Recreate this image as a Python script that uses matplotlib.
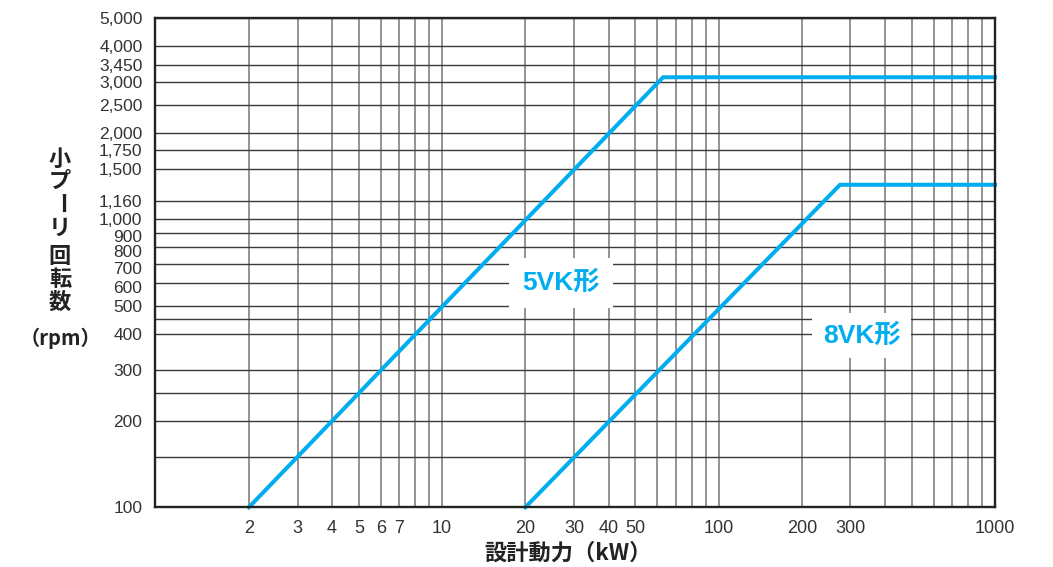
import matplotlib
matplotlib.use("Agg")
import matplotlib.pyplot as plt
from matplotlib.ticker import FixedLocator, NullFormatter
from matplotlib.transforms import ScaledTranslation

# ---- data ----
kw_5vk = [2, 63, 1000]
rpm_5vk = [100, 3120, 3120]
kw_8vk = [20, 275, 1000]
rpm_8vk = [100, 1320, 1320]

x_ticks = [2, 3, 4, 5, 6, 7, 10, 20, 30, 40, 50, 100, 200, 300, 1000]
x_tick_labels = ["2", "3", "4", "5", "6", "7", "10", "20", "30", "40", "50", "100", "200", "300", "1000"]
x_grid_extra = [8, 9, 60, 70, 80, 90, 400, 500, 600, 700, 800, 900]

y_ticks = [100, 200, 300, 400, 500, 600, 700, 800, 900, 1000, 1160, 1500, 1750,
           2000, 2500, 3000, 3450, 4000, 5000]
y_tick_labels = ["100", "200", "300", "400", "500", "600", "700", "800", "900", "1,000",
                 "1,160", "1,500", "1,750", "2,000", "2,500", "3,000", "3,450", "4,000", "5,000"]
y_grid_extra = [150, 250, 450]

label_5vk = "5VK形"
label_8vk = "8VK形"
ylabel_chars = ["小", "プ", "ー", "リ", "回", "転", "数"]
ylabel_unit = "（rpm）"
xlabel = "設計動力（kW）"

BLUE = "#00AEEF"
W, H = 1053, 567

fig = plt.figure(figsize=(W / 100, H / 100), dpi=100)
ax = fig.add_axes([155 / W, 1 - 507.3 / H, (995 - 155) / W, (507.3 - 18.3) / H])
ax.set_xscale("log")
ax.set_yscale("log")
ax.set_xlim(0.915, 1000)
ax.set_ylim(100, 5000)

ax.xaxis.set_major_locator(FixedLocator(x_ticks))
ax.xaxis.set_minor_locator(FixedLocator(x_grid_extra))
ax.set_xticklabels(x_tick_labels)
ax.xaxis.set_minor_formatter(NullFormatter())
ax.yaxis.set_major_locator(FixedLocator(y_ticks))
ax.yaxis.set_minor_locator(FixedLocator(y_grid_extra))
ax.set_yticklabels(y_tick_labels)
ax.yaxis.set_minor_formatter(NullFormatter())

ax.tick_params(which="both", length=0)
ax.tick_params(axis="y", pad=9, labelsize=12.5, labelcolor="#333333")
ax.tick_params(axis="x", pad=9, labelsize=13, labelcolor="#333333")
for lab in ax.get_xticklabels() + ax.get_yticklabels():
    lab.set_family("Liberation Sans")
# small downward nudges (in pixels) so the crowded labels separate like the reference
label_nudge = {"900": 3.5, "800": 4, "700": 4, "600": 4}
for lab in ax.get_yticklabels():
    d = label_nudge.get(lab.get_text())
    if d:
        lab.set_transform(lab.get_transform() + ScaledTranslation(0, -d / 100, fig.dpi_scale_trans))

ax.grid(True, axis="x", which="both", color="#808080", lw=1.2)
ax.grid(True, axis="y", which="both", color="#3a3a3a", lw=1.0)
ax.set_axisbelow(True)
for s in ax.spines.values():
    s.set_linewidth(1.7)
    s.set_color("#222222")
    s.set_zorder(5)

ax.plot(kw_5vk, rpm_5vk, color=BLUE, lw=2.9, solid_joinstyle="miter", zorder=3, clip_on=False)
ax.plot(kw_8vk, rpm_8vk, color=BLUE, lw=2.9, solid_joinstyle="miter", zorder=3, clip_on=False)

fam = ["Liberation Sans", "Noto Sans CJK JP"]
ax.text(26.9, 602, label_5vk, color=BLUE, fontsize=19, fontweight="bold", family=fam,
        ha="center", va="center", zorder=4,
        bbox=dict(boxstyle="square,pad=0.5", fc="white", ec="none"))
ax.text(330, 395, label_8vk, color=BLUE, fontsize=19, fontweight="bold", family=fam,
        ha="center", va="center", zorder=4,
        bbox=dict(boxstyle="square,pad=0.4", fc="white", ec="none"))

# vertical y label
ys = [159, 181, 204, 228, 257, 279, 302]
for ch, y in zip(ylabel_chars, ys):
    rot = -90 if ch == "ー" else 0
    fig.text(60 / W, 1 - y / H, ch, family="Noto Sans CJK JP", fontweight="bold",
             fontsize=16, color="#222222", ha="center", va="center", rotation=rot)
fig.text(60 / W, 1 - 338 / H, ylabel_unit, family="Noto Sans CJK JP", fontweight="bold",
         fontsize=14.5, color="#222222", ha="center", va="center")

fig.text(568 / W, 1 - 553 / H, xlabel, family="Noto Sans CJK JP", fontweight="bold",
         fontsize=16, color="#222222", ha="center", va="center")

fig.savefig("out.png", dpi=100)
